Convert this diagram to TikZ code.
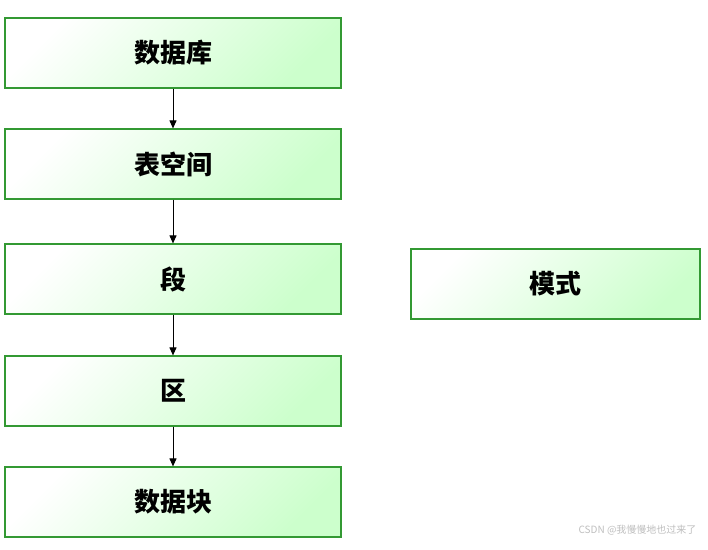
\documentclass[tikz,border=0pt]{standalone}
\usepackage{fontspec}
\usetikzlibrary{arrows.meta}
\newfontfamily\cjk{Noto Sans CJK SC}
\begin{document}
\begin{tikzpicture}[x=1pt,y=-1pt,
  box/.style={draw=green!50!black!80,line width=1.2pt,left color=green!20,right color=white,shading angle=-135,minimum height=70pt,inner sep=0pt,font=\cjk\fontsize{26}{26}\selectfont\bfseries},
  arr/.style={-{Triangle[length=8pt,width=7pt]},line width=1pt}]
\useasboundingbox (0,0) rectangle (708,549);
\path[fill=white] (0,0) rectangle (708,549);
\node[box,minimum width=336pt] (db) at (173,53) {数据库};
\node[box,minimum width=336pt] (ts) at (173,164) {表空间};
\node[box,minimum width=336pt] (seg) at (173,279) {段};
\node[box,minimum width=336pt] (ext) at (173,391) {区};
\node[box,minimum width=336pt] (blk) at (173,502) {数据块};
\node[box,minimum width=289pt] (sch) at (555.5,284) {模式};
\draw[arr] (db) -- (ts);
\draw[arr] (ts) -- (seg);
\draw[arr] (seg) -- (ext);
\draw[arr] (ext) -- (blk);
\node[font=\cjk\fontsize{10}{10}\selectfont,text=black!25,anchor=east] (wm) at (700,530) {CSDN @我慢慢地也过来了};
\end{tikzpicture}
\end{document}
